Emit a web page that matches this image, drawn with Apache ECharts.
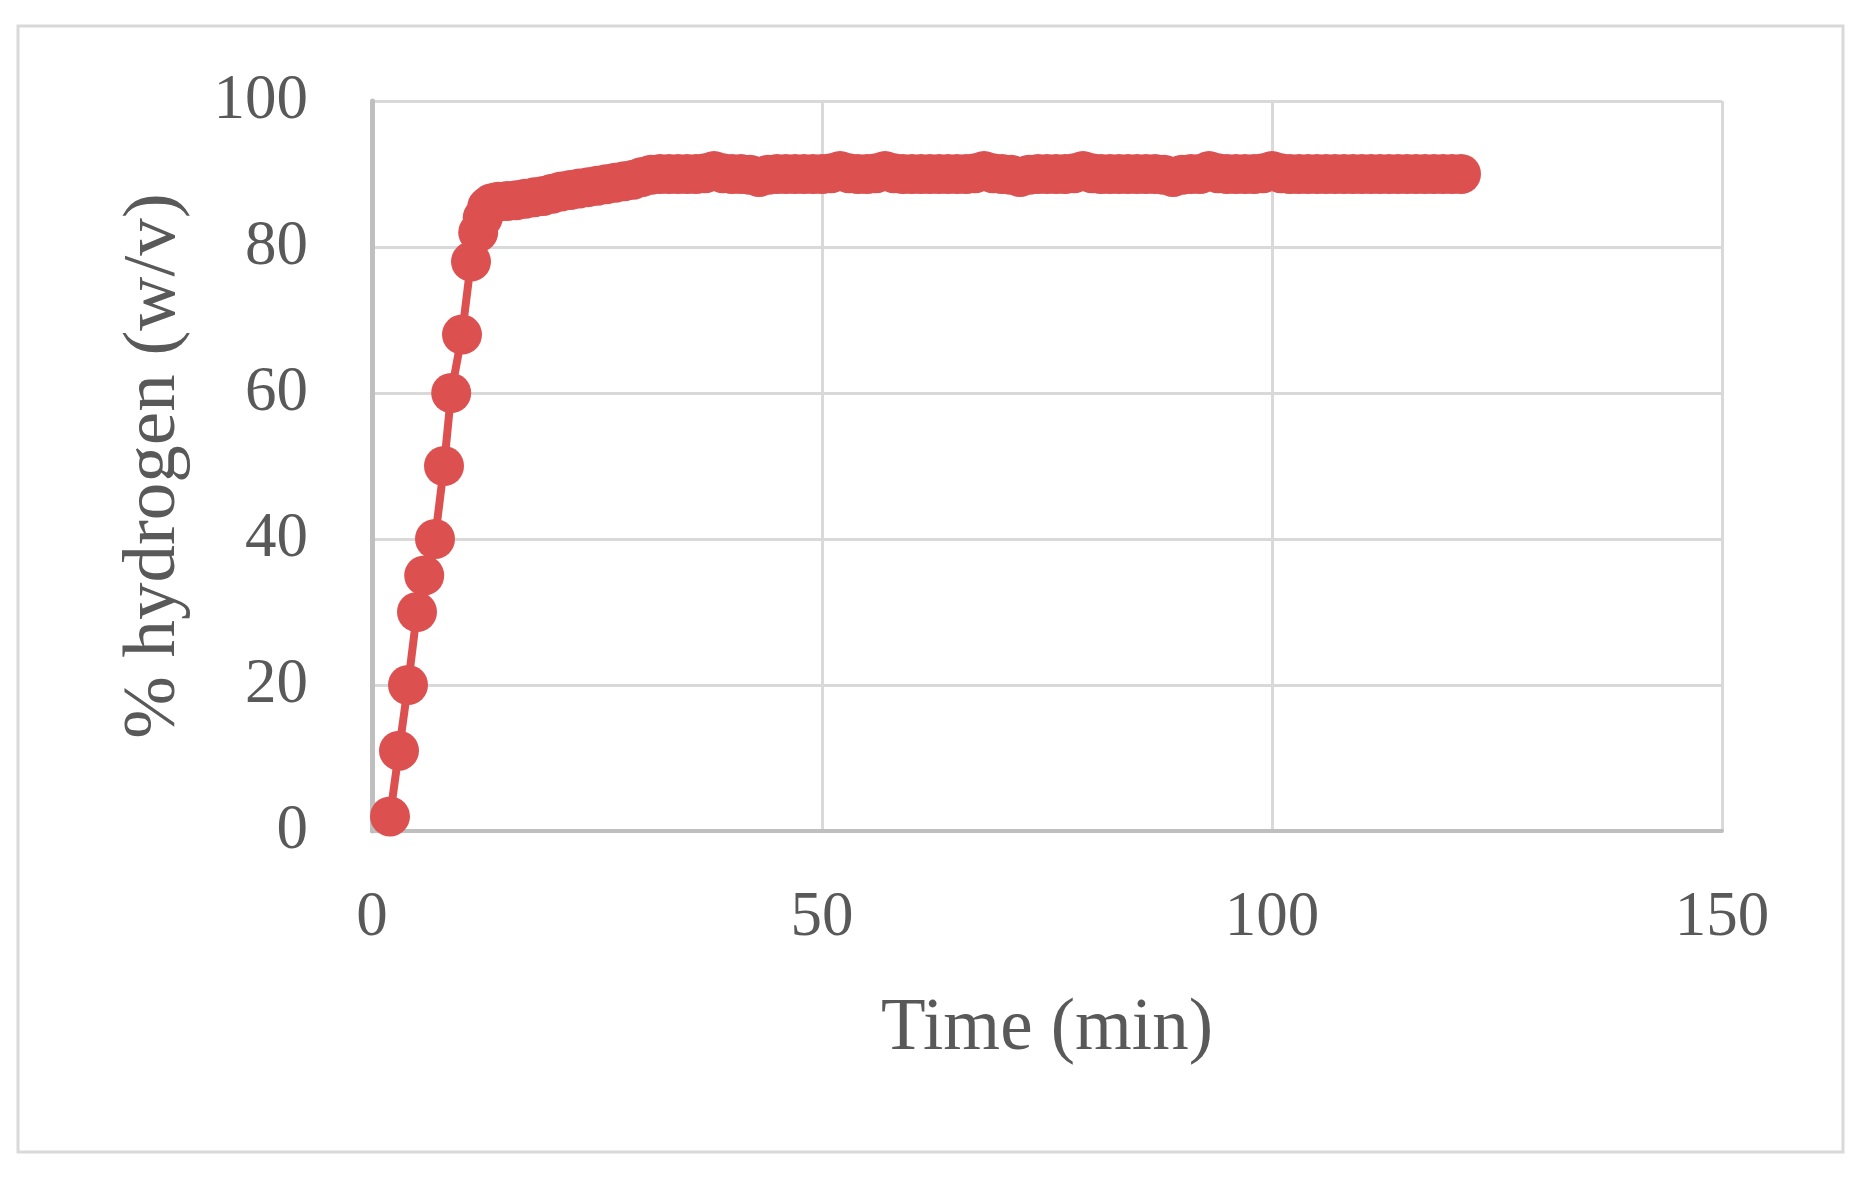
<!DOCTYPE html>
<html>
<head>
<meta charset="utf-8">
<script src="https://cdn.jsdelivr.net/npm/echarts@6/dist/echarts.min.js"></script>
<style>
html,body{margin:0;padding:0;background:#fff;}
#chart{width:1862px;height:1186px;}
</style>
</head>
<body>
<div id="chart"></div>
<script>
// Time (min)
var timeMin = [2, 3, 4, 5, 5.8, 7, 8, 8.8, 10, 11, 11.8, 12.3, 12.8, 13.3, 14, 15, 16, 17, 18, 19, 20, 21, 22, 23, 24, 25, 26, 27, 28, 29, 30, 31,
  32, 33, 34, 35, 36, 37, 38, 39, 40, 41, 42, 43, 44, 45, 46, 47, 48, 49, 50, 51, 52, 53, 54, 55, 56, 57, 58, 59, 60,
  61, 62, 63, 64, 65, 66, 67, 68, 69, 70, 71, 72, 73, 74, 75, 76, 77, 78, 79, 80, 81, 82, 83, 84, 85, 86, 87, 88, 89, 90,
  91, 92, 93, 94, 95, 96, 97, 98, 99, 100, 101, 102, 103, 104, 105, 106, 107, 108, 109, 110, 111, 112, 113, 114, 115, 116, 117, 118, 119, 120, 121];
// % hydrogen (w/v)
var hydrogen = [2, 11, 20, 30, 35, 40, 50, 60, 68, 78, 82, 84, 85.5, 86, 86.2, 86.3, 86.4, 86.6, 86.8, 87.0, 87.3, 87.6, 87.8, 88.0, 88.2, 88.4, 88.6, 88.8, 89.0, 89.2, 89.6, 89.9,
  90, 90, 90, 90, 90, 90.1, 90.4, 90.1, 90, 90, 89.9, 89.6, 89.9, 90, 90, 90, 90, 90, 90, 90.1, 90.4, 90.1, 90, 90, 90.1, 90.4, 90.1, 90, 90,
  90, 90, 90, 90, 90, 90, 90.1, 90.4, 90.1, 90, 89.9, 89.6, 89.9, 90, 90, 90, 90, 90.1, 90.4, 90.1, 90, 90, 90, 90, 90, 90, 90, 89.9, 89.6, 89.9, 90,
  90, 90.4, 90.1, 90, 90, 90, 90, 90.1, 90.4, 90.1, 90, 90, 90, 90, 90, 90, 90, 90, 90, 90, 90, 90, 90, 90, 90, 90, 90, 90, 90, 90, 90, 90];
var xTicks = [0, 50, 100, 150];
var yTicks = [0, 20, 40, 60, 80, 100];

var points = timeMin.map(function (t, i) { return [t, hydrogen[i]]; });
var font = '"Liberation Serif", "Times New Roman", serif';
var txt = '#595959';

var chart = echarts.init(document.getElementById('chart'));
chart.setOption({
  animation: false,
  backgroundColor: '#ffffff',
  graphic: [{
    type: 'rect',
    shape: { x: 18, y: 26, width: 1825, height: 1126 },
    style: { fill: 'none', stroke: '#d9d9d9', lineWidth: 3 },
    z: -10
  }],
  grid: { left: 372, right: 140, top: 101, bottom: 355, containLabel: false },
  xAxis: {
    type: 'value',
    min: xTicks[0], max: xTicks[xTicks.length - 1], interval: 50,
    name: 'Time (min)', nameLocation: 'middle', nameGap: 162,
    nameTextStyle: { fontFamily: font, fontSize: 73, color: txt },
    axisLine: { show: true, lineStyle: { color: '#bfbfbf', width: 4 } },
    axisTick: { show: false },
    axisLabel: { margin: 56, fontFamily: font, fontSize: 63, color: txt },
    splitLine: { show: true, lineStyle: { color: '#d9d9d9', width: 3 } }
  },
  yAxis: {
    type: 'value',
    min: yTicks[0], max: yTicks[yTicks.length - 1], interval: 20,
    name: '% hydrogen (w/v)', nameLocation: 'middle', nameGap: 180,
    nameTextStyle: { fontFamily: font, fontSize: 75, color: txt },
    axisLine: { show: true, lineStyle: { color: '#bfbfbf', width: 5 } },
    axisTick: { show: false },
    axisLabel: { margin: 64, fontFamily: font, fontSize: 63, color: txt },
    splitLine: { show: true, lineStyle: { color: '#d9d9d9', width: 3 } }
  },
  series: [{
    type: 'line',
    data: points,
    symbol: 'circle',
    symbolSize: 40,
    showAllSymbol: true,
    lineStyle: { color: '#dd5050', width: 8 },
    itemStyle: { color: '#dd5050' },
    z: 5
  }]
});
</script>
</body>
</html>
